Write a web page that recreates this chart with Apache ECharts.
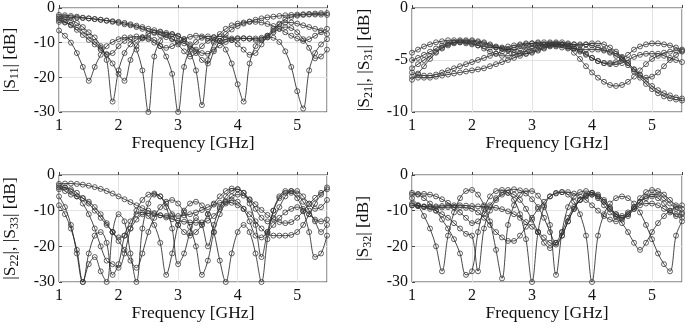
<!DOCTYPE html>
<html>
<head>
<meta charset="utf-8">
<script src="https://cdn.jsdelivr.net/npm/echarts@6/dist/echarts.min.js"></script>
<style>
html,body{margin:0;padding:0;background:#fff;}
#c{width:685px;height:328px;}
</style>
</head>
<body>
<div id="c"></div>
<script>
// Frequency grid (GHz)
var freq = [1.0,1.1,1.2,1.3,1.4,1.5,1.6,1.7,1.8,1.9,2.0,2.1,2.2,2.3,2.4,2.5,2.6,2.7,2.8,2.9,3.0,3.1,3.2,3.3,3.4,3.5,3.6,3.7,3.8,3.9,4.0,4.1,4.2,4.3,4.4,4.5,4.6,4.7,4.8,4.9,5.0,5.1,5.2,5.3,5.4,5.5];
var xTicks = [1,2,3,4,5];

// |S11| curves (dB)
var s11_a = [-6.5,-8,-10,-13,-17,-21,-17,-13.5,-11,-9.8,-9,-8.5,-9,-12,-18,-30,-14,-9.5,-7.8,-7.5,-8,-9.5,-12.5,-18,-28,-15,-10,-7.5,-6,-5,-4.5,-4.2,-4,-4,-4.2,-4.6,-5.2,-6,-7,-8,-8.8,-9.5,-9,-8,-7,-6];
var s11_b = [-3,-3.2,-3.6,-4.3,-5.5,-7,-8.5,-11,-15,-27,-18,-13,-10.5,-9.2,-8.6,-8.6,-9.2,-11,-14,-19,-30,-17,-12,-9.8,-8.6,-8.2,-8.4,-9.5,-12,-16,-22,-27,-16,-11,-9,-8.4,-8.6,-9.8,-12.5,-17,-24,-29,-18,-13,-10.5,-9];
var s11_c = [-4,-4.2,-4.8,-5.6,-6.8,-8.2,-9.8,-11.5,-13.5,-16,-19,-21,-15,-11,-8.8,-7.5,-7,-7,-7.6,-8.8,-10.5,-12.5,-14,-13,-11,-9.5,-8.5,-8.2,-8.5,-9.2,-10.5,-12,-13.5,-13,-10.5,-8,-6,-4.8,-4.2,-4.2,-4.5,-5,-5.5,-6,-6.5,-7.5];
var s11_d = [-3.5,-4,-5,-6.3,-7.8,-9.2,-10.5,-12,-13.3,-13,-11,-9.5,-8.5,-8.2,-8.4,-9,-10,-11,-11.5,-11,-10,-9,-8.3,-8,-8.2,-8.8,-9.5,-9.5,-9,-8.8,-8.7,-8.7,-8.8,-8.8,-8.6,-8,-7,-6,-5.5,-5.8,-7,-9,-11.5,-14.5,-14,-12];
var s11_e = [-2,-2.1,-2.3,-2.5,-2.8,-3,-3.2,-3.4,-3.6,-3.8,-4,-4.3,-4.7,-5.1,-5.5,-6,-6.4,-6.8,-7.2,-7.6,-8.2,-9,-10.5,-12.5,-15,-16,-12.5,-9.5,-7.5,-6.2,-5.2,-4.5,-3.9,-3.4,-3,-2.7,-2.5,-2.3,-2.1,-2,-1.9,-1.8,-1.7,-1.6,-1.5,-1.5];
var s11_f = [-2.5,-2.6,-2.7,-2.8,-2.9,-3,-3.2,-3.4,-3.7,-4,-4.3,-4.7,-5,-5.5,-6,-6.6,-7.2,-7.8,-8.4,-9,-9.6,-10.2,-11,-12,-13,-13.2,-12,-10.8,-9.8,-9.2,-8.9,-8.8,-8.9,-9.2,-9.3,-8.5,-6.5,-4.5,-3.2,-2.6,-2.2,-2,-1.9,-1.9,-1.9,-2];

// |S21|, |S31| curves (dB)
var s21_a = [-4.3,-4.0,-3.7,-3.5,-3.3,-3.2,-3.1,-3.1,-3.1,-3.1,-3.1,-3.2,-3.3,-3.5,-3.7,-3.9,-4.1,-4.3,-4.4,-4.4,-4.3,-4.1,-3.9,-3.7,-3.6,-3.6,-3.7,-3.9,-4.2,-4.5,-4.8,-5.1,-5.3,-5.4,-5.4,-5.3,-5.0,-4.7,-4.5,-4.4,-4.4,-4.4,-4.6,-4.8,-5.0,-5.2];
var s21_b = [-5.0,-4.8,-4.5,-4.2,-3.9,-3.6,-3.4,-3.3,-3.3,-3.4,-3.5,-3.6,-3.7,-3.8,-3.8,-3.8,-3.7,-3.6,-3.5,-3.4,-3.4,-3.4,-3.5,-3.6,-3.7,-3.8,-3.9,-3.9,-4.0,-4.0,-4.0,-4.0,-4.1,-4.2,-4.4,-4.8,-5.3,-5.9,-6.5,-7.0,-7.5,-7.9,-8.2,-8.4,-8.6,-8.7];
var s31_a = [-6.9,-6.3,-5.6,-4.9,-4.3,-3.8,-3.5,-3.3,-3.2,-3.2,-3.2,-3.3,-3.4,-3.6,-3.8,-3.9,-4.0,-4.0,-3.9,-3.8,-3.7,-3.6,-3.5,-3.4,-3.4,-3.5,-3.8,-4.3,-4.9,-5.6,-6.2,-6.7,-7.1,-7.4,-7.5,-7.4,-7.1,-6.6,-6.0,-5.4,-4.9,-4.6,-4.3,-4.2,-4.1,-4.1];
var s31_b = [-5.8,-5.4,-5.0,-4.6,-4.2,-3.9,-3.6,-3.4,-3.3,-3.3,-3.4,-3.6,-3.9,-4.2,-4.4,-4.6,-4.6,-4.5,-4.3,-4.1,-3.9,-3.7,-3.6,-3.5,-3.5,-3.5,-3.5,-3.5,-3.5,-3.5,-3.6,-3.8,-4.0,-4.3,-4.6,-5.0,-5.5,-6.1,-6.7,-7.3,-7.8,-8.2,-8.5,-8.7,-8.8,-8.9];
var s21_c = [-6.6,-6.7,-6.7,-6.7,-6.6,-6.5,-6.4,-6.3,-6.2,-6.1,-6.0,-5.9,-5.8,-5.6,-5.4,-5.2,-5.0,-4.8,-4.6,-4.4,-4.2,-4.0,-3.8,-3.6,-3.5,-3.5,-3.6,-3.8,-4.1,-4.4,-4.8,-5.1,-5.3,-5.3,-5.2,-4.9,-4.5,-4.0,-3.7,-3.5,-3.4,-3.4,-3.5,-3.6,-3.8,-4.0];
var s31_c = [-6.2,-6.4,-6.5,-6.5,-6.4,-6.2,-6.0,-5.8,-5.6,-5.4,-5.2,-5.0,-4.8,-4.6,-4.4,-4.2,-4.0,-3.8,-3.6,-3.5,-3.4,-3.3,-3.3,-3.3,-3.3,-3.3,-3.4,-3.5,-3.6,-3.5,-3.4,-3.4,-3.5,-3.8,-4.2,-4.7,-5.3,-5.9,-6.4,-6.7,-6.6,-6.2,-5.6,-5.0,-4.5,-4.2];

// |S22|, |S33| curves (dB)
var s22_a = [-2.5,-2.4,-2.4,-2.5,-2.7,-3.0,-3.4,-3.9,-4.5,-5.2,-6.0,-6.8,-7.6,-8.5,-9.3,-10.0,-10.7,-11.3,-11.9,-12.4,-12.8,-13.1,-13.3,-13.4,-13.3,-12.8,-11.5,-9.5,-7.5,-6.0,-5.5,-5.8,-6.8,-8.2,-9.8,-11.2,-12.4,-13.2,-13.5,-13.2,-12.0,-10.2,-8.2,-6.4,-5.0,-4.0];
var s22_b = [-6,-9,-14,-22,-30,-25,-23,-27,-30,-16,-11,-13,-22,-30,-15,-8,-5.5,-6,-9,-15,-25,-22,-16,-12,-14,-20,-14,-9,-6,-4.5,-4,-5,-8,-14,-23,-16,-10,-6.5,-5,-5,-6.5,-10,-16,-23,-22,-17];
var s22_c = [-4,-3.5,-4,-5,-6.5,-8,-10,-12,-14,-16,-18.5,-21,-24,-26,-22,-16,-12,-9,-7.5,-7,-8,-10.5,-14.5,-20,-28,-24,-16,-11,-8,-7,-7.5,-9.5,-13,-17,-17.5,-16,-14,-12,-10.5,-9.5,-9,-9.5,-11,-12.5,-13,-12.5];
var s33_a = [-3.5,-4.5,-5.5,-6,-6.5,-7.5,-9,-11,-13.5,-16,-17.5,-17,-15,-12.5,-11,-10.8,-11,-11.3,-11.5,-11.5,-11.5,-11.3,-11,-10.5,-9.8,-9,-8.3,-7.8,-7.6,-7.8,-8.5,-9.5,-11,-13,-15,-16.5,-17,-17,-17,-16.8,-16,-14,-11,-8,-5.5,-3.5];
var s33_b = [-8.5,-11,-15,-21,-30,-22,-17,-16,-19,-28,-25,-17,-13,-11,-10.5,-11.5,-14,-19,-28,-22,-14,-10,-8,-7.5,-8.5,-11,-16,-24,-30,-22,-16,-14,-16,-22,-30,-18,-10,-6,-4.5,-4.5,-5.5,-7.5,-10,-13,-16,-14];
var s33_c = [-3,-3.5,-4.5,-6,-8,-11,-15,-20,-24,-25,-26,-22,-15,-10,-7,-5.5,-5.2,-6,-8,-11,-14,-16,-17,-16,-14,-11,-8,-6,-4.5,-3.8,-4,-5,-7,-9.5,-12,-13,-12,-9,-6,-4.5,-4.5,-6,-8,-9.5,-9,-7];

// |S32| curves (dB)
var s32_a = [-6.5,-8.5,-11.5,-15,-20,-27,-17,-10.5,-6.5,-4.5,-4.2,-5.5,-8.5,-13,-21,-29,-14,-8.5,-5.5,-4.5,-4.5,-5.8,-8.5,-14,-28,-16,-9,-6,-4.8,-4.5,-5,-6.5,-8.5,-10.5,-11.8,-12,-11,-9,-6.5,-4.8,-4.2,-4.5,-5.5,-7,-8.5,-9.5];
var s32_b = [-5,-5.5,-6.5,-8,-10,-12.5,-15,-18,-22,-28,-27,-16,-9.5,-6,-4.5,-4.2,-5,-7,-11,-18,-30,-16,-9,-6,-5,-4.8,-5.5,-7.5,-11,-17,-30,-17,-11,-8,-6.5,-6,-6.5,-8,-10.5,-14,-18,-22,-25,-27,-17,-13];
var s32_c = [-8,-8.5,-9,-9.5,-10,-11,-12,-13.5,-15,-16.5,-17,-27,-15,-10,-7,-5.5,-5,-5.5,-7,-9.5,-12.5,-16,-19,-20.5,-19,-16,-12,-9,-7,-6,-5.5,-6,-7.5,-9.5,-11,-11.5,-10.5,-9,-7.5,-6.5,-6,-6.5,-8,-10,-11.5,-12];
var s32_d = [-8.5,-8.7,-8.9,-9,-9.1,-9.1,-9,-9,-9,-9.2,-9.5,-10.5,-12,-14,-16,-17.5,-18.5,-18.5,-17,-14.5,-12,-9.5,-7.5,-6,-5.2,-4.8,-4.8,-5.2,-6,-7,-8.5,-10,-11.5,-12.5,-13,-12.5,-11,-9.5,-8.5,-8,-8,-8.5,-9.5,-10.5,-11,-11];
var s32_e = [-8.5,-8.7,-8.8,-8.8,-8.8,-8.7,-8.6,-8.5,-8.5,-8.6,-8.7,-8.8,-8.9,-9,-9.2,-9.6,-10.2,-11,-12,-13.2,-14.5,-16,-17.5,-19,-19.5,-17,-13,-9.5,-7,-5.8,-5.5,-6,-7.5,-9.5,-11.5,-13.5,-16,-19,-21,-19,-16,-13.5,-11.5,-10,-9,-8.5];
var s32_f = [-5.5,-5.3,-5.3,-5.5,-6,-6.8,-7.8,-9,-10.5,-12,-13.5,-13,-11,-8.5,-6.5,-5,-4.2,-4,-4.3,-5.2,-6.8,-9,-12,-16,-19,-17,-13,-9.5,-7,-5.5,-5,-5.5,-7,-9,-11,-12,-11.5,-9.5,-7.5,-6,-5.5,-5.5,-6.5,-8,-9.5,-10.5];

var FONT = 'Liberation Serif';
var panels = [
  {left:53, top:5, width:274, name:'{n||S}{s|11}{n|| [dB]}', min:-30, interval:10, gap:38, curves:[s11_a,s11_b,s11_c,s11_d,s11_e,s11_f]},
  {left:412, top:5, width:272, name:'{n||S}{s|21}{n||, |S}{s|31}{n|| [dB]}', min:-10, interval:5, gap:37, curves:[s21_a,s21_b,s31_a,s31_b,s21_c,s31_c]},
  {left:53, top:175, width:274, name:'{n||S}{s|22}{n||, |S}{s|33}{n|| [dB]}', min:-30, interval:10, gap:38, curves:[s22_a,s22_b,s22_c,s33_a,s33_b,s33_c]},
  {left:412, top:175, width:272, name:'{n||S}{s|32}{n|| [dB]}', min:-30, interval:10, gap:38, curves:[s32_a,s32_b,s32_c,s32_d,s32_e,s32_f]}
];

var grids = [], xAxes = [], yAxes = [], series = [];
panels.forEach(function(p, i){
  grids.push({left:p.left, top:p.top, width:p.width, height:107, show:true, borderColor:'#444', borderWidth:1, backgroundColor:'#fff'});
  xAxes.push({
    type:'value', gridIndex:i, min:1, max:5.5, interval:1,
    name:'Frequency [GHz]', nameLocation:'middle', nameGap:22,
    nameTextStyle:{fontFamily:FONT, fontSize:17.5, color:'#111'},
    axisLine:{show:false}, axisTick:{show:true, inside:true, length:3, lineStyle:{color:'#444'}},
    axisLabel:{fontFamily:FONT, fontSize:16, color:'#111', margin:6,
      formatter:function(v){ return xTicks.indexOf(v) >= 0 ? String(v) : ''; }},
    splitLine:{show:true, lineStyle:{color:'#e3e3e3', width:1}}
  });
  yAxes.push({
    type:'value', gridIndex:i, min:p.min, max:0, interval:p.interval,
    name:p.name, nameLocation:'middle', nameGap:p.gap, nameRotate:90,
    nameTextStyle:{rich:{
      n:{fontFamily:FONT, fontSize:17.5, color:'#111', lineHeight:22},
      s:{fontFamily:FONT, fontSize:12, color:'#111', lineHeight:10, verticalAlign:'bottom'}
    }},
    axisLine:{show:false}, axisTick:{show:true, inside:true, length:3, lineStyle:{color:'#444'}},
    axisLabel:{fontFamily:FONT, fontSize:16, color:'#111', margin:4},
    splitLine:{show:true, lineStyle:{color:'#e3e3e3', width:1}}
  });
  p.curves.forEach(function(c){
    series.push({
      type:'line', xAxisIndex:i, yAxisIndex:i,
      data: freq.map(function(f, k){ return [f, c[k]]; }),
      smooth:0.35, symbol:'circle', symbolSize:5, showSymbol:true,
      lineStyle:{color:'#1a1a1a', width:0.8},
      itemStyle:{color:'rgba(255,255,255,0)', borderColor:'#3a3a3a', borderWidth:0.8},
      clip:true, silent:true, animation:false
    });
  });
});

var chart = echarts.init(document.getElementById('c'), null, {renderer:'canvas'});
chart.setOption({animation:false, grid:grids, xAxis:xAxes, yAxis:yAxes, series:series});
</script>
</body>
</html>
